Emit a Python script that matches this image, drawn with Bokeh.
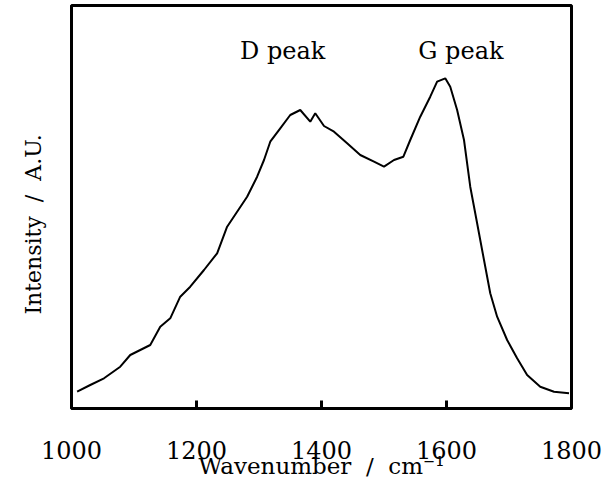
from bokeh.plotting import figure
from bokeh.models import Range1d, FixedTicker, ColumnDataSource
from bokeh.core.properties import value
from bokeh.embed import file_html
from bokeh.resources import INLINE

# Raman spectrum (arbitrary units)
wavenumber = [1009, 1030, 1052, 1078, 1094, 1126, 1142, 1158, 1174, 1190,
              1212, 1233, 1249, 1265, 1281, 1297, 1308, 1318, 1334, 1350,
              1366, 1382, 1390, 1404, 1420, 1441, 1462, 1484, 1500, 1516,
              1531, 1542, 1558, 1574, 1585, 1598, 1606, 1617, 1628, 1638,
              1649, 1660, 1670, 1681, 1697, 1713, 1729, 1750, 1772, 1796]
intensity = [16.8, 23.5, 30.2, 41.8, 53.5, 63.5, 81.8, 90.2, 111.8, 121.8,
             138.5, 155.2, 181.8, 196.8, 211.8, 231.8, 248.5, 266.8, 280.2, 293.5,
             298.5, 286.8, 295.2, 282.5, 276.8, 265.2, 253.5, 246.8, 241.8, 248.5,
             251.8, 268.5, 291.8, 311.8, 326.8, 330.2, 321.8, 298.5, 268.5, 221.8,
             185.2, 148.5, 115.2, 91.8, 68.5, 50.2, 33.5, 21.8, 16.8, 15.2]

x_ticks = [1000, 1200, 1400, 1600, 1800]
inner_ticks = [1200, 1400, 1600]
peak_labels = ["D peak", "G peak"]
peak_label_x = [1338, 1623]
peak_label_y = [358, 358]

FONT = "DejaVu Serif"
NB = "\u00a0"

p = figure(width=604, height=488, output_backend="svg", toolbar_location=None,
           x_range=Range1d(1000, 1800), y_range=Range1d(0, 403),
           min_border_left=71, min_border_right=33, min_border_top=5,
           min_border_bottom=80)
p.grid.visible = False
p.background_fill_color = "white"
p.border_fill_color = "white"
p.outline_line_color = "black"
p.outline_line_width = 3

p.line(wavenumber, intensity, line_color="black", line_width=2)

# inward tick marks along the bottom edge
p.segment(x0=inner_ticks, y0=[0] * len(inner_ticks), x1=inner_ticks,
          y1=[8] * len(inner_ticks), line_color="black", line_width=3)

src = ColumnDataSource(dict(x=peak_label_x, y=peak_label_y, t=peak_labels))
p.text(x="x", y="y", text="t", source=src, text_font=value(FONT),
       text_font_size="24px", text_align="center", text_baseline="alphabetic",
       text_color="black")

xa = p.xaxis[0]
xa.ticker = FixedTicker(ticks=x_ticks)
xa.axis_line_color = "black"
xa.axis_line_width = 3
xa.major_tick_in = 0
xa.major_tick_out = 0
xa.minor_tick_line_color = None
xa.major_label_text_font = FONT
xa.major_label_text_font_size = "24px"
xa.major_label_text_color = "black"
xa.major_label_standoff = 32
xa.axis_label = "Wavenumber" + NB * 2 + "/" + NB * 2 + "cm\u207b\u00b9"
xa.axis_label_text_font = FONT
xa.axis_label_text_font_size = "23px"
xa.axis_label_text_font_style = "normal"
xa.axis_label_text_color = "black"
xa.axis_label_standoff = -9

ya = p.yaxis[0]
ya.ticker = FixedTicker(ticks=[])
ya.axis_line_color = "black"
ya.axis_line_width = 3
ya.major_tick_line_color = None
ya.minor_tick_line_color = None
ya.major_label_text_font_size = "0px"
ya.axis_label = "Intensity" + NB * 2 + "/" + NB * 2 + "A.U." + NB * 5
ya.axis_label_text_font = FONT
ya.axis_label_text_font_size = "22px"
ya.axis_label_text_font_style = "normal"
ya.axis_label_text_color = "black"
ya.axis_label_standoff = 26

open("out.html", "w").write(file_html(p, INLINE))
